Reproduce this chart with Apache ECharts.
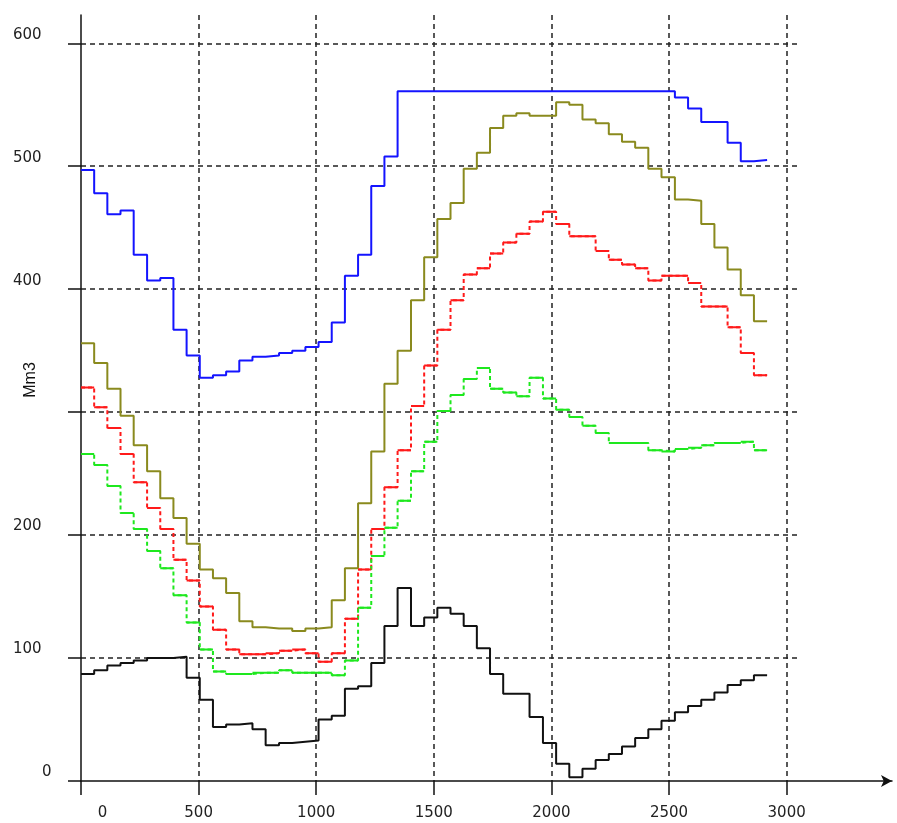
<!DOCTYPE html>
<html><head><meta charset="utf-8">
<script src="https://cdn.jsdelivr.net/npm/echarts@6/dist/echarts.min.js"></script>
<style>html,body{margin:0;padding:0;background:#fff}#c{width:897px;height:823px}</style>
</head><body><div id="c"></div>
<script>
// week boundaries (x values)
const weekEdges = [0,56,112,168,224,281,337,393,449,505,561,617,673,729,785,842,898,954,1010,1066,1122,1178,1234,1290,1346,1403,1459,1515,1571,1627,1683,1739,1795,1851,1907,1964,2020,2076,2132,2188,2244,2300,2356,2412,2468,2525,2581,2637,2693,2749,2805,2861,2917];
const xTicks = [0,500,1000,1500,2000,2500,3000];
const yTicks = [0,100,200,300,400,500,600];
const yLabels = [0,100,200,400,500,600];

const blueVals  = [497,478,461,464,428,407,409,367,346,328,330,333,342,345,346,348,350,353,357,373,411,428,484,508,561,561,561,561,561,561,561,561,561,561,561,561,561,561,561,561,561,561,561,561,561,556,547,536,536,519,504,505];
const oliveVals = [356,340,319,297,273,252,230,214,193,172,165,153,130,125,124,124,122,124,125,147,173,226,268,323,350,391,426,457,470,498,511,531,541,543,541,541,552,550,538,535,526,520,515,498,491,473,472,453,434,416,395,374];
const redVals   = [320,304,287,266,243,222,205,180,163,142,123,107,103,103,104,106,107,104,97,104,132,172,205,239,269,305,338,367,391,412,417,429,438,445,455,463,453,443,443,431,424,420,417,407,411,411,405,386,386,369,348,330];
const greenVals = [266,257,240,218,205,187,173,151,129,107,89,87,87,88,88,90,88,88,88,86,98,141,183,206,228,252,276,301,314,327,336,319,316,313,328,311,302,296,289,283,275,275,275,269,268,270,271,273,275,275,276,269];
const blackVals = [87,90,94,96,98,100,100,101,84,66,44,46,47,42,29,31,32,33,50,53,75,77,96,126,157,126,133,141,136,126,108,87,71,71,52,31,14,3,10,17,22,28,35,42,49,56,61,66,72,78,82,86];

function stepData(vals){
  const d = vals.map((v,i)=>[weekEdges[i], v]);
  d.push([weekEdges[vals.length], vals[vals.length-1]]);
  return d;
}
function flatData(vals){
  const d = [];
  vals.forEach((v,i)=>{ d.push([weekEdges[i], v], [weekEdges[i+1], v], [weekEdges[i+1], '-']); });
  return d;
}
const FONT = 'DejaVu Sans';
const gridLine = {type:[5,4], color:'#222', width:1.5};
const axisLine = {color:'#111', width:1.5};

function stepSeries(name, vals, color, dashed){
  return {name, type:'line', step:'end', data:stepData(vals), showSymbol:false, silent:true,
    lineStyle:{color, width:2, type: dashed ? [4,3] : 'solid'}, itemStyle:{color}, z:3};
}
function flatSeries(name, vals, color){
  return {name:name+'_h', type:'line', data:flatData(vals), showSymbol:false, silent:true, connectNulls:false,
    lineStyle:{color, width:2}, itemStyle:{color}, z:4};
}

const chart = echarts.init(document.getElementById('c'), null, {renderer:'canvas'});
chart.setOption({
  animation:false,
  backgroundColor:'#fff',
  grid:[{left:81, right:5, top:15, bottom:42},{left:81, right:97, top:15, bottom:42}],
  xAxis:[
    {gridIndex:0, type:'value', min:0, max:3448, interval:500,
     axisLine:{show:true, lineStyle:axisLine, symbol:['none','arrow'], symbolSize:[9,11]},
     axisTick:{show:true, length:14, lineStyle:axisLine, customValues:xTicks},
     axisLabel:{customValues:xTicks, margin:25, fontSize:15, fontFamily:FONT, color:'#222',
       formatter:v=> v===0 ? '{z|0}' : (v%500===0 ? String(v) : ''),
       rich:{z:{padding:[0,0,0,43], fontSize:15, fontFamily:FONT, color:'#222'}}},
     splitLine:{show:true, showMinLine:false, lineStyle:gridLine}},
    {gridIndex:1, type:'value', min:0, max:3057, show:false}
  ],
  yAxis:[
    {gridIndex:0, type:'value', min:0, max:623, interval:100,
     axisLine:{show:true, lineStyle:axisLine},
     axisTick:{show:true, length:13, lineStyle:axisLine, customValues:yTicks},
     axisLabel:{customValues:yLabels, align:'left', verticalAlign:'bottom', lineHeight:17, margin:68,
       fontSize:15, fontFamily:FONT, color:'#222',
       formatter:v=> v===0 ? '{z|0}' : (v%100===0 ? String(v) : ''),
       rich:{z:{padding:[0,0,0,29], fontSize:15, fontFamily:FONT, color:'#222', lineHeight:17}}},
     splitLine:{show:false}},
    {gridIndex:1, type:'value', min:0, max:623, interval:100,
     axisLine:{show:false}, axisTick:{show:false}, axisLabel:{show:false},
     splitLine:{show:true, showMinLine:false, showMaxLine:false, lineStyle:gridLine}}
  ],
  graphic:[{type:'text', x:31, y:380, rotation:Math.PI/2,
    style:{text:'Mm3', font:'16px "Liberation Sans", Arial, sans-serif', fill:'#111', textAlign:'center', textVerticalAlign:'middle'}}],
  series:[
    stepSeries('blue', blueVals, '#1414ff', false),
    stepSeries('olive', oliveVals, '#8a8a1e', false),
    stepSeries('red', redVals, '#ff1a1a', true),
    flatSeries('red', redVals, '#ff1a1a'),
    stepSeries('green', greenVals, '#1ee81e', true),
    flatSeries('green', greenVals, '#1ee81e'),
    stepSeries('black', blackVals, '#111', false)
  ]
});
</script></body></html>
